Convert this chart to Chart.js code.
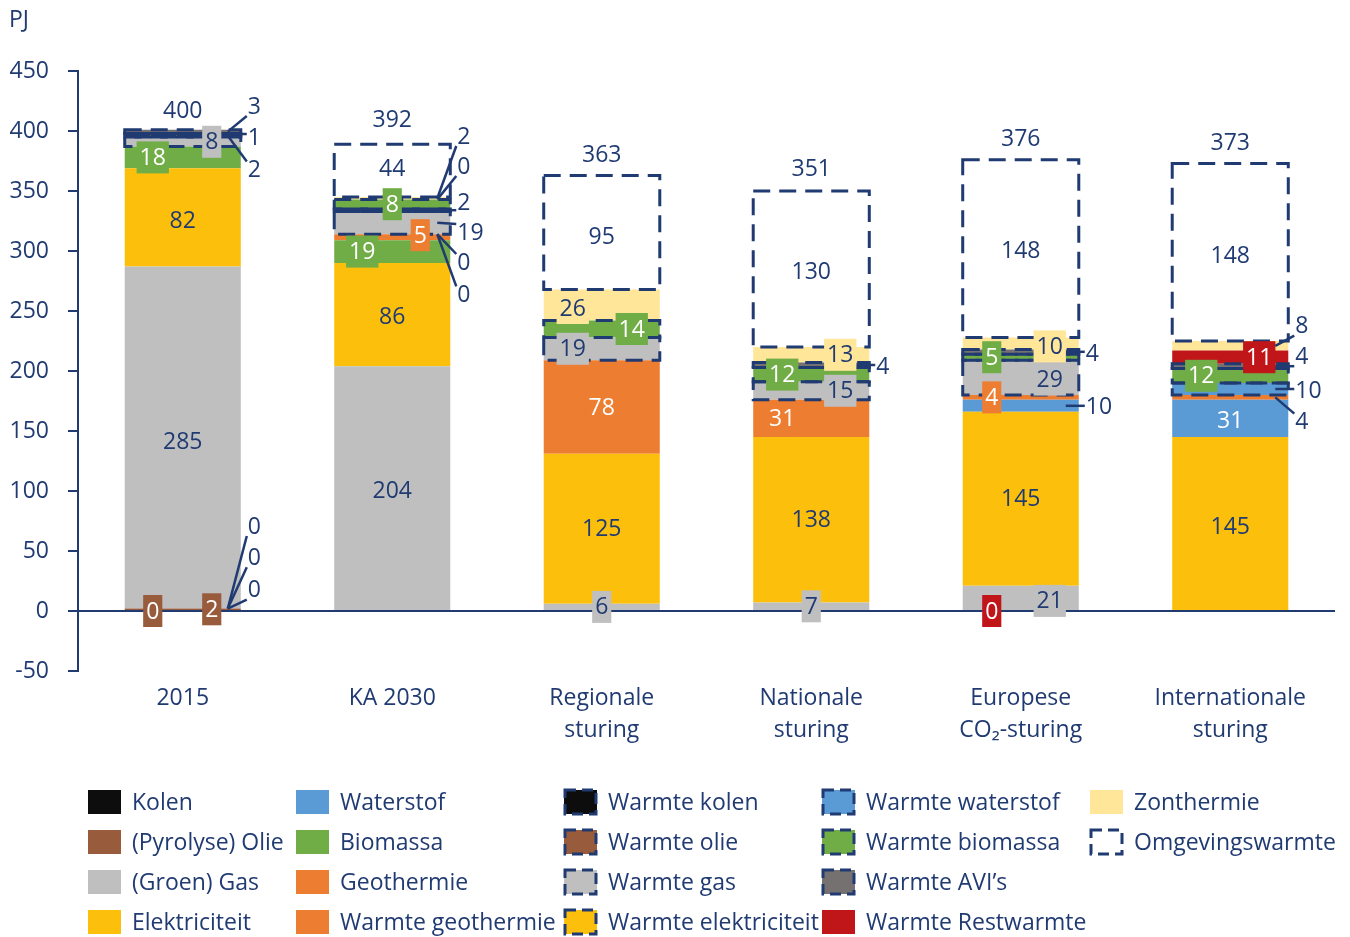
<!DOCTYPE html>
<html>
<head>
<meta charset="utf-8">
<script src="https://cdn.jsdelivr.net/npm/chart.js@4.4.0/dist/chart.umd.min.js"></script>
<style>
  html, body { margin: 0; padding: 0; background: #fff; }
</style>
</head>
<body>
<canvas id="energyChart" width="1350" height="937"></canvas>
<script>
// categories (x axis)
const categories = ['2015', 'KA 2030', ['Regionale', 'sturing'], ['Nationale', 'sturing'], ['Europese', 'CO\u2082-sturing'], ['Internationale', 'sturing']]
const totals = [400, 392, 363, 351, 376, 373]
const yTicks = [-50, 0, 50, 100, 150, 200, 250, 300, 350, 400, 450]

// PJ per scenario, bottom to top of each stack
const kolen = [0, 0, 0, 0, 0, 0]
const olie = [2, 0, 0, 0, 0, 0]
const gas = [285, 204, 6, 7, 21, 0]
const elektriciteit = [82, 86, 125, 138, 145, 145]
const waterstof = [0, 0, 0, 0, 10, 31]
const biomassa = [18, 19, 0, 0, 0, 0]
const geothermie = [0, 0, 0, 0, 0, 0]
const warmteGeothermie = [0, 5, 78, 31, 4, 4]
const warmteKolen = [0, 0, 0, 0, 0, 0]
const warmteOlie = [0, 0, 0, 0, 0, 0]
const warmteGas = [8, 19, 19, 15, 29, 0]
const warmteElektriciteit = [2, 2, 0, 0, 0, 0]
const warmteWaterstof = [0, 0, 0, 0, 0, 10]
const warmteBiomassa = [1, 8, 14, 12, 5, 12]
const warmteAvi = [3, 0, 0, 4, 4, 4]
const warmteRestwarmte = [0, 0, 0, 0, 0, 11]
const zonthermie = [0, 2, 26, 13, 10, 8]
const omgevingswarmte = [0, 44, 95, 130, 148, 148]

const NAVY = '#203a72'
const FONT_FAMILY = '"Open Sans", "Noto Sans", sans-serif'
const FONT_SIZE = 23

const series = [
    ['Kolen', kolen, '#0d0d0d', false, '#fff'],
    ['(Pyrolyse) Olie', olie, '#985b3c', false, '#fff'],
    ['(Groen) Gas', gas, '#bfbfbf', false, NAVY],
    ['Elektriciteit', elektriciteit, '#fcc00c', false, NAVY],
    ['Waterstof', waterstof, '#5b9bd5', false, '#fff'],
    ['Biomassa', biomassa, '#70ad47', false, '#fff'],
    ['Geothermie', geothermie, '#ed7d31', false, '#fff'],
    ['Warmte geothermie', warmteGeothermie, '#ed7d31', false, '#fff'],
    ['Warmte kolen', warmteKolen, '#0d0d0d', true, '#fff'],
    ['Warmte olie', warmteOlie, '#985b3c', true, '#fff'],
    ['Warmte gas', warmteGas, '#bfbfbf', true, NAVY],
    ['Warmte elektriciteit', warmteElektriciteit, '#fcc00c', true, NAVY],
    ['Warmte waterstof', warmteWaterstof, '#5b9bd5', true, '#fff'],
    ['Warmte biomassa', warmteBiomassa, '#70ad47', true, '#fff'],
    ['Warmte AVI\u2019s', warmteAvi, '#767171', true, NAVY],
    ['Warmte Restwarmte', warmteRestwarmte, '#c0161a', false, '#fff'],
    ['Zonthermie', zonthermie, '#ffe699', false, NAVY],
    ['Omgevingswarmte', omgevingswarmte, '#ffffff', true, NAVY]
]
const names = series.map(s => s[0])

// data labels: dx/dy shift inside the bar, ty = value where an outside label sits, at = anchor value override
const valueLabels = [
    {s: '(Groen) Gas', b: 0, dy: 4},
    {s: 'Elektriciteit', b: 0, dy: 3},
    {s: 'Biomassa', b: 0, dx: -30},
    {s: 'Warmte gas', b: 0, dx: 29},
    {s: 'Warmte elektriciteit', b: 0, ty: 367},
    {s: 'Warmte biomassa', b: 0, ty: 394},
    {s: 'Warmte AVI\u2019s', b: 0, ty: 420},
    {s: '(Pyrolyse) Olie', b: 0, dx: 29},
    {s: 'Warmte olie', b: 0, dx: -30, at: 0},
    {s: 'Kolen', b: 0, ty: 70, at: 2},
    {s: 'Warmte kolen', b: 0, ty: 44, at: 2},
    {s: 'Waterstof', b: 0, ty: 17, at: 2},

    {s: '(Groen) Gas', b: 1, dy: 2},
    {s: 'Elektriciteit', b: 1, dy: 2},
    {s: 'Biomassa', b: 1, dx: -30},
    {s: 'Warmte geothermie', b: 1, dx: 28, dy: -2},
    {s: 'Warmte biomassa', b: 1},
    {s: 'Omgevingswarmte', b: 1, dy: -2},
    {s: 'Zonthermie', b: 1, ty: 395},
    {s: 'Warmte AVI\u2019s', b: 1, ty: 370},
    {s: 'Warmte elektriciteit', b: 1, ty: 340},
    {s: 'Warmte gas', b: 1, ty: 315},
    {s: 'Warmte olie', b: 1, ty: 290},
    {s: 'Warmte kolen', b: 1, ty: 263},

    {s: '(Groen) Gas', b: 2},
    {s: 'Elektriciteit', b: 2},
    {s: 'Warmte geothermie', b: 2},
    {s: 'Warmte gas', b: 2, dx: -29},
    {s: 'Warmte biomassa', b: 2, dx: 30},
    {s: 'Zonthermie', b: 2, dx: -29, dy: 3},
    {s: 'Omgevingswarmte', b: 2, dy: 4},

    {s: '(Groen) Gas', b: 3},
    {s: 'Elektriciteit', b: 3},
    {s: 'Warmte geothermie', b: 3, dx: -29},
    {s: 'Warmte gas', b: 3, dx: 29},
    {s: 'Warmte biomassa', b: 3, dx: -29},
    {s: 'Warmte AVI\u2019s', b: 3, ty: 203},
    {s: 'Zonthermie', b: 3, dx: 29},
    {s: 'Omgevingswarmte', b: 3, dy: 2},

    {s: '(Groen) Gas', b: 4, dx: 29, dy: 3},
    {s: 'Warmte Restwarmte', b: 4, dx: -29, at: 0},
    {s: 'Elektriciteit', b: 4},
    {s: 'Waterstof', b: 4, ty: 170},
    {s: 'Warmte geothermie', b: 4, dx: -29},
    {s: 'Warmte gas', b: 4, dx: 29, dy: 2},
    {s: 'Warmte biomassa', b: 4, dx: -29},
    {s: 'Warmte AVI\u2019s', b: 4, ty: 214},
    {s: 'Zonthermie', b: 4, dx: 29, dy: 3},
    {s: 'Omgevingswarmte', b: 4, dy: 2},

    {s: 'Elektriciteit', b: 5, dy: 3},
    {s: 'Waterstof', b: 5, dy: 2},
    {s: 'Warmte geothermie', b: 5, ty: 157},
    {s: 'Warmte waterstof', b: 5, ty: 183},
    {s: 'Warmte biomassa', b: 5, dx: -29},
    {s: 'Warmte AVI\u2019s', b: 5, ty: 211},
    {s: 'Warmte Restwarmte', b: 5, dx: 29},
    {s: 'Zonthermie', b: 5, ty: 237},
    {s: 'Omgevingswarmte', b: 5, dy: 3}
]

// legend grid (column major, 4 rows)
const legendColX = [88, 296, 564, 822, 1090]
const legendRowY = [802, 842, 882, 922]

const font = FONT_SIZE + 'px ' + FONT_FAMILY

function dashedRect(ctx, x, y, w, h, dash) {
    ctx.save()
    ctx.strokeStyle = NAVY
    ctx.lineWidth = 3
    ctx.setLineDash(dash)
    ctx.strokeRect(x, y, w, h)
    ctx.restore()
}

const decorations = {
    id: 'decorations',
    afterDatasetsDraw(chart) {
        const ctx = chart.ctx
        const yScale = chart.scales.y

        // dashed outlines for the heat series
        series.forEach((s, i) => {
            if (!s[3]) return
            chart.getDatasetMeta(i).data.forEach((el, b) => {
                if (!s[1][b]) return
                const top = Math.min(el.y, el.base), h = Math.abs(el.base - el.y)
                dashedRect(ctx, el.x - el.width / 2, top, el.width, h, [17, 9])
            })
        })

        ctx.save()
        ctx.font = font
        ctx.textBaseline = 'middle'
        valueLabels.forEach(l => {
            const di = names.indexOf(l.s)
            const el = chart.getDatasetMeta(di).data[l.b]
            const text = String(series[di][1][l.b])
            const right = el.x + el.width / 2
            const segY = l.at !== undefined ? yScale.getPixelForValue(l.at) : (el.y + el.base) / 2
            if (l.ty !== undefined) {
                const tx = right + 6, ty = yScale.getPixelForValue(l.ty)
                const endY = ty + Math.max(-9, Math.min(9, segY - ty))
                ctx.strokeStyle = NAVY
                ctx.lineWidth = 2.5
                ctx.beginPath()
                ctx.moveTo(right - 13, segY)
                ctx.lineTo(tx, endY)
                ctx.stroke()
                ctx.fillStyle = NAVY
                ctx.textAlign = 'left'
                ctx.fillText(text, tx + 1, ty)
            } else {
                const cx = el.x + (l.dx || 0), cy = segY + (l.dy || 0)
                const w = ctx.measureText(text).width + 6, h = 32
                ctx.fillStyle = series[di][2]
                ctx.fillRect(cx - w / 2, cy - h / 2, w, h)
                ctx.fillStyle = series[di][4]
                ctx.textAlign = 'center'
                ctx.fillText(text, cx, cy + 1)
            }
        })

        // totals above the stacks
        const meta = chart.getDatasetMeta(0)
        ctx.fillStyle = NAVY
        ctx.textAlign = 'center'
        totals.forEach((t, b) => {
            ctx.fillText(String(t), meta.data[b].x, yScale.getPixelForValue(t) - 20)
        })
        ctx.restore()
    },
    afterDraw(chart) {
        const ctx = chart.ctx
        ctx.save()
        ctx.font = font
        ctx.textBaseline = 'middle'
        ctx.fillStyle = NAVY
        ctx.textAlign = 'left'
        ctx.fillText('PJ', 9, 20)

        series.forEach((s, i) => {
            const x = legendColX[Math.floor(i / 4)], y = legendRowY[i % 4]
            ctx.fillStyle = s[2]
            ctx.fillRect(x, y - 12, 33, 24)
            if (s[3]) dashedRect(ctx, x + 1, y - 12, 31, 24, [11, 6])
            ctx.fillStyle = NAVY
            ctx.fillText(s[0], x + 44, y + 1)
        })
        ctx.restore()
    }
}

new Chart(document.getElementById('energyChart'), {
    type: 'bar',
    data: {
        labels: categories,
        datasets: series.map(s => ({
            label: s[0],
            data: s[1],
            backgroundColor: s[2],
            borderWidth: 0,
            barPercentage: 0.554,
            categoryPercentage: 1
        }))
    },
    options: {
        responsive: false,
        animation: false,
        devicePixelRatio: 1,
        layout: { padding: { left: 0, top: 71, right: 15, bottom: 0 } },
        plugins: { legend: { display: false }, tooltip: { enabled: false } },
        scales: {
            x: {
                stacked: true,
                grid: { display: false, drawTicks: false },
                border: { display: false },
                ticks: { color: NAVY, font: { family: FONT_FAMILY, size: FONT_SIZE, lineHeight: 1.4 }, padding: 11, maxRotation: 0 },
                afterFit: s => { s.height = 937 - 671 }
            },
            y: {
                stacked: true,
                min: -50,
                max: 450,
                z: 1,
                afterBuildTicks: s => { s.ticks = yTicks.map(v => ({ value: v })) },
                ticks: { color: NAVY, font: { family: FONT_FAMILY, size: FONT_SIZE }, padding: 19 },
                grid: {
                    color: c => c.tick && c.tick.value === 0 ? NAVY : 'rgba(0,0,0,0)',
                    lineWidth: 2,
                    tickColor: NAVY,
                    tickLength: 10,
                    tickWidth: 2
                },
                border: { color: NAVY, width: 2 },
                afterFit: s => { s.width = 78 }
            }
        }
    },
    plugins: [decorations]
})
</script>
</body>
</html>
